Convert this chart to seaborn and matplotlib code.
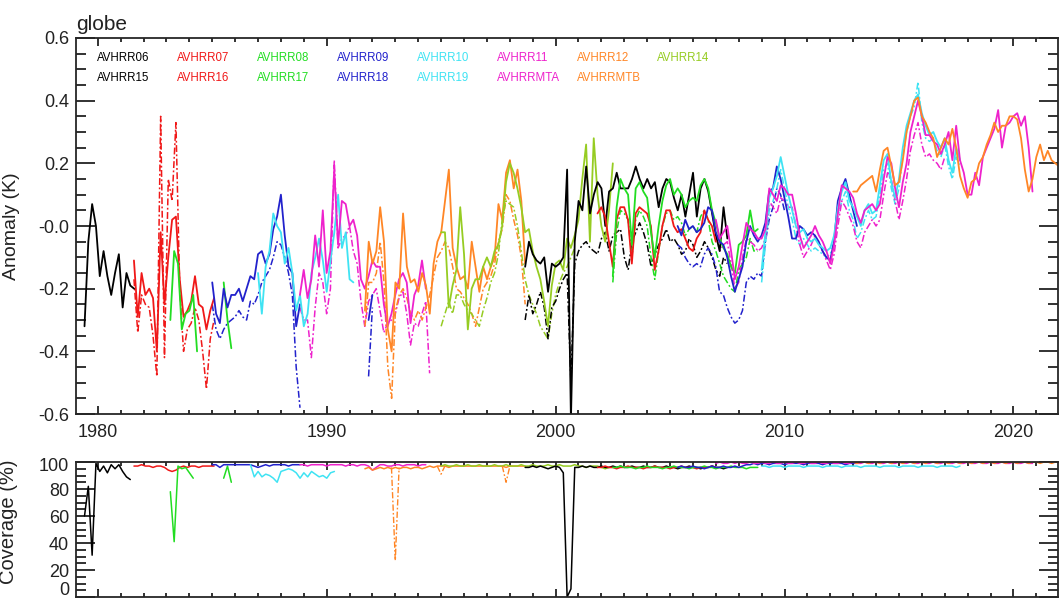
import numpy as np
import matplotlib
matplotlib.use("Agg")
import matplotlib.pyplot as plt
from matplotlib.ticker import MultipleLocator
from matplotlib.transforms import ScaledTranslation
import seaborn as sns

# ---- data: anomaly (K), bi-monthly values, first value at the given start year ----
avhrr06_start = 1979.42
avhrr06 = [-0.32, -0.05, 0.07, 0.00, -0.16, -0.08, -0.16, -0.22, -0.15, -0.09, -0.26, -0.15, -0.19, -0.20]
avhrr06_cov = [60, 82, 31, 99, 93, 97, 92, 98, 95, 98, 93, 89, 87]

avhrr07_start = 1981.58
avhrr07 = [-0.11, -0.29, -0.15, -0.22, -0.20, -0.23, -0.40, -0.02, -0.25, -0.10, 0.02, 0.03, -0.17, -0.29,
           -0.27, -0.24, -0.16, -0.25, -0.26, -0.33, -0.27, -0.23]
avhrr07_dd = [-0.17, -0.34, -0.22, -0.25, -0.26, -0.35, -0.48, 0.35, -0.42, 0.15, 0.08, 0.33, -0.20, -0.40,
              -0.33, -0.31, -0.26, -0.30, -0.40, -0.52, -0.36, -0.30]
avhrr07_cov = [97, 97, 98, 97, 97, 96, 97, 97, 96, 94, 93, 94, 96, 97, 96, 97, 97, 96, 97, 97, 97, 97]

avhrr08_start = 1983.17
avhrr08 = [-0.30, -0.08, -0.12, -0.33, -0.28, -0.27, -0.22, -0.40]
avhrr08_cov = [78, 41, 97, 95, 96, 92, 88]
avhrr08b_start = 1985.5
avhrr08b = [-0.18, -0.30, -0.39]
avhrr08b_cov = [88, 97, 85]

avhrr09_start = 1985.0
avhrr09 = [-0.18, -0.28, -0.31, -0.20, -0.26, -0.22, -0.22, -0.20, -0.24, -0.20, -0.16, -0.17, -0.09, -0.08,
           -0.12, -0.09, -0.01, 0.03, 0.10, -0.03, -0.13, -0.15, -0.32, -0.25]
avhrr09_dd = [-0.25, -0.33, -0.36, -0.33, -0.31, -0.30, -0.29, -0.27, -0.29, -0.30, -0.24, -0.25, -0.22, -0.18,
              -0.16, -0.14, -0.10, -0.05, -0.06, -0.10, -0.15, -0.22, -0.45, -0.58]
avhrr09_cov = [98, 98, 96, 98, 98, 98, 98, 98, 98, 98, 98, 97, 96, 97, 98, 97, 98, 98, 98, 98, 97, 98, 98, 98]
avhrr09b_start = 1991.83
avhrr09b = [-0.30, -0.22]
avhrr09b_dd = [-0.48, -0.26]

avhrr10_start = 1987.0
avhrr10 = [-0.15, -0.28, -0.13, -0.08, 0.04, 0.00, -0.02, -0.12, -0.07, -0.15, -0.27, -0.22, -0.32, -0.28,
           -0.15, -0.10, -0.04, -0.11, -0.21, -0.11, -0.02, 0.10, -0.07, -0.02, -0.17, -0.18]
avhrr10_cov_start = 1986.67
avhrr10_cov = [98, 89, 93, 89, 91, 90, 88, 85, 93, 94, 95, 94, 92, 88, 92, 89, 93, 91, 89, 90, 88, 92, 93]

avhrr11_start = 1988.83
avhrr11 = [-0.22, -0.14, -0.23, -0.17, -0.03, -0.13, 0.05, -0.15, -0.08, 0.18, -0.06, 0.08, 0.07, 0.00,
           0.02, -0.03, -0.17, -0.20, -0.16, -0.11, -0.13, -0.13, -0.25, -0.32, -0.28, -0.22, -0.17, -0.15,
           -0.18, -0.31, -0.22, -0.19, -0.11, -0.20]
avhrr11_dd = [-0.26, -0.30, -0.30, -0.42, -0.26, -0.15, -0.18, -0.28, -0.20, 0.21, -0.07, -0.04, -0.03, 0.00,
              -0.08, -0.12, -0.24, -0.32, -0.24, -0.22, -0.20, -0.27, -0.34, -0.31, -0.30, -0.28, -0.23, -0.21,
              -0.28, -0.38, -0.31, -0.32, -0.28, -0.24, -0.47]
avhrr11_cov = [98, 98, 97, 98, 98, 98, 98, 97, 98, 98, 98, 98, 97, 98, 98, 97, 98, 98, 97, 94, 96, 98,
               98, 97, 97, 98, 98, 97, 98, 98, 98, 97, 98, 98]

avhrr12_start = 1991.67
avhrr12 = [-0.27, -0.05, -0.12, -0.08, 0.06, -0.05, -0.33, -0.40, -0.18, -0.20, 0.04, -0.13, -0.18, -0.17,
           -0.21, -0.15, -0.19, -0.28, -0.12, -0.05, -0.02, 0.08, 0.18, -0.07, -0.13, -0.17, -0.16, -0.20,
           -0.05, -0.13, -0.21, -0.13, -0.17, -0.13, -0.10, 0.07, 0.02, 0.17, 0.21, 0.12, 0.18, 0.08, -0.12]
avhrr12_dd = [-0.32, -0.18, -0.18, -0.15, -0.05, -0.18, -0.45, -0.55, -0.27, -0.22, -0.20, -0.23, -0.28, -0.30,
              -0.27, -0.30, -0.26, -0.22, -0.16, -0.10, -0.08, -0.05, -0.07, -0.13, -0.20, -0.21, -0.23, -0.25,
              -0.28, -0.32, -0.26, -0.20, -0.18, -0.16, -0.12, -0.05, -0.01, 0.10, 0.08, 0.02, -0.03, -0.10, -0.25]
avhrr12_cov = [95, 96, 94, 95, 96, 95, 96, 95, 96, 95, 96, 96, 95, 96, 96, 95, 96, 97, 96, 97, 97, 97,
               96, 97, 97, 97, 97, 97, 97, 97, 97, 97, 97, 97, 97, 97, 97, 96, 97, 97, 97, 97, 97]
avhrr12_dd_cov_start = [1992.83, 1994.83, 1997.67]
avhrr12_dd_cov = [[96, 27, 96], [97, 91, 97], [97, 85, 97]]

avhrr14_start = 1995.0
avhrr14 = [-0.02, -0.02, -0.26, -0.19, -0.14, 0.06, -0.09, -0.33, -0.20, -0.17, -0.17, -0.13, -0.10, -0.13,
           -0.08, -0.06, 0.00, 0.14, 0.20, 0.17, 0.12, 0.06, -0.02, -0.01, -0.08, -0.13, -0.17, -0.24, -0.32,
           -0.19, -0.12, -0.11, -0.14, -0.04, -0.07, -0.03, 0.02, 0.15, 0.26, -0.05, 0.28, 0.10, 0.00, -0.05,
           0.05, 0.20]
avhrr14_dd = [-0.32, -0.28, -0.24, -0.28, -0.22, -0.22, -0.25, -0.27, -0.28, -0.30, -0.32, -0.27, -0.23, -0.18,
              -0.15, -0.09, 0.02, 0.08, 0.07, 0.06, 0.00, -0.08, -0.17, -0.22, -0.25, -0.28, -0.32, -0.34, -0.36,
              -0.28, -0.22, -0.18, -0.15, -0.13, -0.10, -0.07]
avhrr14_cov = [97, 98, 97, 97, 98, 97, 97, 98, 97, 97, 98, 97, 97, 97, 98, 97, 97, 98, 97, 97, 97, 98,
               97, 97, 98, 97, 97, 97, 98, 97, 97, 98, 97, 97, 97, 98, 97, 97, 96, 97, 97, 97, 96, 95, 96, 96]

avhrr15_start = 1998.67
avhrr15 = [-0.13, -0.05, -0.09, -0.11, -0.12, -0.10, -0.21, -0.12, -0.13, -0.12, -0.10, 0.18, -0.62, -0.05,
           0.08, 0.05, 0.19, 0.04, 0.10, 0.14, 0.12, 0.00, 0.11, 0.12, 0.17, 0.12, 0.12, 0.12, 0.15, 0.19,
           0.15, 0.12, 0.15, 0.12, 0.14, 0.06, 0.12, 0.15, 0.14, 0.09, 0.05, 0.10, 0.03, 0.10, 0.17, 0.03,
           0.12, 0.15, 0.11, 0.04, -0.03, -0.08, 0.06, -0.04]
avhrr15_dd = [-0.30, -0.22, -0.28, -0.25, -0.21, -0.26, -0.36, -0.26, -0.24, -0.20, -0.17, -0.15, -0.50, -0.12,
              -0.08, -0.06, -0.05, -0.07, -0.08, -0.09, -0.04, -0.02, -0.08, -0.03, -0.02, -0.01, -0.10, -0.14,
              -0.05, -0.02, 0.01, -0.02, -0.06, -0.13, -0.09, -0.06, -0.04, -0.01, -0.05, -0.04, -0.06, -0.09,
              -0.08, -0.04, -0.06, -0.10, -0.08, -0.05, -0.07, -0.10, -0.14, -0.16, -0.10, -0.12]
avhrr15_cov = [96, 96, 97, 96, 97, 96, 95, 96, 97, 96, 92, 0, 6, 96, 96, 97, 96, 97, 96, 96, 97, 96,
               96, 97, 96, 97, 96, 96, 97, 96, 96, 97, 96, 96, 97, 96, 96, 97, 96, 96, 95, 96, 96, 97,
               96, 96, 95, 96, 96, 97, 96, 96, 95, 96]

avhrr16_start = 2001.83
avhrr16 = [0.04, 0.06, 0.03, -0.05, -0.13, 0.02, 0.06, 0.06, 0.02, -0.12, 0.04, 0.06, 0.05, 0.04, 0.00, -0.14,
           -0.08, 0.00, 0.05, 0.05, 0.00, -0.02, -0.01, -0.04, -0.07, -0.08, -0.04, -0.02, 0.05, 0.02, 0.00, -0.05]
avhrr16_cov = [96, 96, 97, 96, 96, 95, 96, 96, 97, 96, 96, 96, 95, 96, 96, 97, 96, 96, 96, 95, 96, 96,
               97, 96, 96, 96, 95, 96, 96, 96, 97, 96]

avhrr17_start = 2002.5
avhrr17 = [-0.16, 0.06, 0.15, 0.12, 0.10, -0.06, 0.12, 0.14, 0.11, 0.09, -0.02, -0.10, 0.00, 0.08, 0.13,
           0.15, 0.10, 0.12, 0.10, 0.06, 0.08, 0.09, 0.08, 0.13, 0.15, 0.12, 0.05, 0.01, -0.04, -0.07, -0.09,
           -0.13, -0.15, -0.06, -0.05, -0.03, 0.05, -0.02, -0.01]
avhrr17_dd = [-0.18, -0.02, 0.05, 0.04, 0.02, -0.10, 0.02, 0.05, 0.03, 0.00, -0.10, -0.17, -0.08, 0.00, 0.04,
              0.05, 0.02, 0.03, 0.01, -0.03, -0.01, 0.00, -0.02, 0.03, 0.05, 0.02, -0.05, -0.08, -0.12, -0.16,
              -0.18, -0.20, -0.21, -0.14, -0.12, -0.10, -0.04, -0.08, -0.08]
avhrr17_cov = [96, 96, 97, 96, 96, 96, 95, 96, 96, 97, 96, 96, 96, 95, 96, 96, 97, 96, 96, 96, 95, 96,
               96, 96, 97, 96, 96, 95, 96, 96, 96, 97, 96, 96, 96, 95, 96, 96, 96]

avhrr18_start = 2005.33
avhrr18 = [0.00, -0.03, 0.02, -0.01, 0.00, -0.02, -0.01, 0.01, 0.06, 0.05, -0.02, -0.05, -0.06, -0.10, -0.16,
           -0.21, -0.17, -0.13, -0.05, 0.00, -0.03, -0.05, -0.03, 0.01, 0.11, 0.12, 0.19, 0.15, 0.09, 0.03,
           -0.04, -0.04, 0.00, -0.01, -0.03, -0.02, -0.03, -0.05, -0.08, -0.10, -0.11, -0.05, 0.08, 0.12, 0.15,
           0.10, 0.05, 0.00]
avhrr18_dd = [-0.06, -0.07, -0.10, -0.12, -0.13, -0.12, -0.13, -0.09, -0.07, -0.09, -0.13, -0.21, -0.22, -0.26,
              -0.29, -0.31, -0.30, -0.27, -0.18, -0.16, -0.17, -0.15, -0.16, -0.05, 0.02, 0.06, 0.12, 0.10, 0.05]
avhrr18_cov = [96, 97, 96, 96, 97, 96, 96, 95, 96, 97, 96, 96, 97, 96, 96, 97, 96, 97, 98, 98, 99, 98,
               99, 99, 98, 99, 99, 99, 98, 99, 99, 99, 99, 98, 99, 99, 99, 99, 98, 99, 99, 99, 99, 99,
               98, 99, 99, 99]

avhrr19_start = 2009.0
avhrr19 = [-0.14, -0.02, 0.09, 0.12, 0.16, 0.22, 0.16, 0.10, 0.05, 0.00, -0.02, -0.01, -0.04, -0.05, -0.04,
           -0.06, -0.07, -0.08, -0.07, -0.03, 0.06, 0.11, 0.14, 0.08, 0.06, 0.03, 0.00, 0.05, 0.07, 0.04,
           0.05, 0.13, 0.21, 0.23, 0.14, 0.09, 0.15, 0.25, 0.32, 0.36, 0.40, 0.42, 0.36, 0.32, 0.29, 0.30,
           0.27, 0.25, 0.28, 0.21, 0.17, 0.25, 0.21]
avhrr19_dd = [-0.18, -0.06, 0.05, 0.08, 0.12, 0.18, 0.12, 0.06, 0.02, -0.04, -0.06, -0.04, -0.06, -0.08, -0.07,
              -0.08, -0.09, -0.10, -0.09, -0.05, 0.03, 0.08, 0.11, 0.05, 0.02, -0.04, -0.02, 0.02, 0.05, 0.02,
              0.03, 0.10, 0.18, 0.20, 0.12, 0.07, 0.12, 0.22, 0.30, 0.35, 0.38, 0.46, 0.33, 0.28, 0.27, 0.28,
              0.24, 0.22, 0.26, 0.19, 0.15, 0.22, 0.19]
avhrr19_cov = [97, 97, 96, 97, 97, 97, 96, 97, 97, 97, 97, 96, 97, 97, 97, 97, 96, 97, 97, 97, 97, 96,
               97, 97, 97, 97, 96, 97, 97, 97, 97, 96, 97, 97, 97, 97, 96, 97, 97, 97, 97, 96, 97, 97,
               97, 97, 96, 97, 97, 97, 97, 96, 97]

avhrrmta_start = 2007.0
avhrrmta = [0.02, -0.04, -0.02, 0.00, -0.08, -0.17, -0.13, -0.06, 0.01, -0.01, -0.02, -0.04, -0.04, -0.01,
            0.12, 0.10, 0.08, 0.13, 0.12, 0.10, 0.10, 0.04, -0.03, -0.07, -0.05, -0.03, 0.00, -0.03, -0.05,
            -0.08, -0.12, -0.06, 0.04, 0.13, 0.12, 0.11, 0.09, 0.04, 0.01, 0.05, 0.06, 0.07, 0.05, 0.07, 0.15,
            0.22, 0.20, 0.12, 0.06, 0.14, 0.20, 0.30, 0.35, 0.40, 0.35, 0.29, 0.29, 0.27, 0.26, 0.23, 0.26,
            0.30, 0.21, 0.32, 0.21, 0.17, 0.10, 0.10, 0.17, 0.13, 0.22, 0.25, 0.28, 0.31, 0.37, 0.25, 0.32,
            0.33, 0.35, 0.36, 0.32, 0.35, 0.25, 0.11]
avhrrmta_dd = [-0.02, -0.08, -0.06, -0.05, -0.12, -0.20, -0.18, -0.10, -0.04, -0.05, -0.06, -0.08, -0.07, -0.04,
               0.08, 0.06, 0.04, 0.09, 0.08, 0.06, 0.06, 0.00, -0.06, -0.10, -0.08, -0.06, -0.03, -0.06, -0.08,
               -0.11, -0.14, -0.09, 0.00, 0.08, 0.06, 0.03, 0.00, -0.05, -0.07, -0.02, 0.00, 0.02, 0.00, 0.02,
               0.10, 0.17, 0.15, 0.08, 0.02, 0.08, 0.15, 0.24, 0.29, 0.33, 0.26, 0.22, 0.23, 0.21, 0.20, 0.18, 0.22]
avhrrmta_cov = [99, 100, 99, 99, 100, 99, 100, 99, 99, 100, 99, 99, 100, 99, 99, 100, 99, 99, 100, 99, 99,
                100, 99, 99, 100, 99, 99, 100, 99, 99, 100, 99, 99, 100, 99, 99, 100, 99, 99, 100, 99, 99,
                100, 99, 99, 100, 99, 99, 100, 99, 99, 100, 99, 99, 100, 99, 99, 100, 99, 99, 100, 99, 99,
                100, 99, 99, 100, 99, 99, 100, 99, 99, 100, 99, 99, 100, 99, 99, 100, 99, 99, 100, 99, 99]

avhrrmtb_start = 2013.0
avhrrmtb = [0.11, 0.11, 0.13, 0.14, 0.15, 0.16, 0.11, 0.18, 0.24, 0.25, 0.19, 0.13, 0.14, 0.21, 0.30, 0.35,
            0.40, 0.41, 0.35, 0.33, 0.30, 0.28, 0.22, 0.25, 0.28, 0.26, 0.31, 0.25, 0.16, 0.12, 0.09, 0.14,
            0.15, 0.20, 0.22, 0.26, 0.29, 0.33, 0.30, 0.32, 0.32, 0.35, 0.35, 0.34, 0.28, 0.18, 0.11, 0.15,
            0.22, 0.26, 0.21, 0.24, 0.21, 0.20, 0.19]
avhrrmtb_cov = [100, 99, 100, 100, 99, 100, 100, 99, 100, 100, 99, 100, 100, 99, 100, 100, 99, 100, 100,
                99, 100, 100, 99, 100, 100, 99, 100, 100, 99, 100, 100, 99, 100, 100, 99, 100, 100, 99,
                100, 100, 99, 100, 100, 99, 100, 100, 99, 100, 100, 99, 100, 100, 99, 100, 100]

names_row1 = ["AVHRR06", "AVHRR07", "AVHRR08", "AVHRR09", "AVHRR10", "AVHRR11", "AVHRR12", "AVHRR14"]
names_row2 = ["AVHRR15", "AVHRR16", "AVHRR17", "AVHRR18", "AVHRR19", "AVHRRMTA", "AVHRRMTB"]
colors = ["#000000", "#f01818", "#22dd22", "#2222cc", "#3fe3f3", "#ee22cc", "#ff8626", "#96cc22"]
year_ticks = [1980, 1990, 2000, 2010, 2020]
anom_ticks = [-0.6, -0.4, -0.2, 0.0, 0.2, 0.4, 0.6]
anom_labels = ["-0.6", "-0.4", "-0.2", "-0.0", "0.2", "0.4", "0.6"]
cov_ticks = [0, 20, 40, 60, 80, 100]

DASHDOT = (0, (4.5, 1.6, 1.2, 1.6))


def months(start, n):
    # bi-monthly time axis
    return start + np.arange(n) / 6.0


sns.set_style("ticks")
plt.rcParams["font.family"] = ["Liberation Sans", "DejaVu Sans"]

fig = plt.figure(figsize=(10.59, 5.99), dpi=100)
ax = fig.add_axes([0.0718, 0.3088, 0.9273, 0.6278])
ax2 = fig.add_axes([0.0718, 0.0033, 0.9273, 0.2254])

# (start, values, colour index) per line
solid = [
    (avhrr06_start, avhrr06, 0), (avhrr07_start, avhrr07, 1), (avhrr08_start, avhrr08, 2),
    (avhrr08b_start, avhrr08b, 2), (avhrr09_start, avhrr09, 3), (avhrr09b_start, avhrr09b, 3),
    (avhrr10_start, avhrr10, 4), (avhrr11_start, avhrr11, 5), (avhrr12_start, avhrr12, 6),
    (avhrr14_start, avhrr14, 7), (avhrr15_start, avhrr15, 0), (avhrr16_start, avhrr16, 1),
    (avhrr17_start, avhrr17, 2), (avhrr18_start, avhrr18, 3), (avhrr19_start, avhrr19, 4),
    (avhrrmta_start, avhrrmta, 5), (avhrrmtb_start, avhrrmtb, 6),
]
dashed = [
    (avhrr07_start, avhrr07_dd, 1), (avhrr09_start, avhrr09_dd, 3), (avhrr09b_start, avhrr09b_dd, 3),
    (avhrr11_start, avhrr11_dd, 5), (avhrr12_start, avhrr12_dd, 6), (avhrr14_start, avhrr14_dd, 7),
    (avhrr15_start, avhrr15_dd, 0), (avhrr17_start, avhrr17_dd, 2), (avhrr18_start, avhrr18_dd, 3),
    (avhrr19_start, avhrr19_dd, 4), (avhrrmta_start, avhrrmta_dd, 5),
]
coverage = [
    (avhrr06_start, avhrr06_cov, 0), (avhrr07_start, avhrr07_cov, 1), (avhrr08_start, avhrr08_cov, 2),
    (avhrr08b_start, avhrr08b_cov, 2), (avhrr09_start, avhrr09_cov, 3), (avhrr10_cov_start, avhrr10_cov, 4),
    (avhrr11_start, avhrr11_cov, 5), (avhrr12_start, avhrr12_cov, 6), (avhrr14_start, avhrr14_cov, 7),
    (avhrr15_start, avhrr15_cov, 0), (avhrr16_start, avhrr16_cov, 1), (avhrr17_start, avhrr17_cov, 2),
    (avhrr18_start, avhrr18_cov, 3), (avhrr19_start, avhrr19_cov, 4), (avhrrmta_start, avhrrmta_cov, 5),
    (avhrrmtb_start, avhrrmtb_cov, 6),
]

for start, vals, ci in dashed:
    sns.lineplot(x=months(start, len(vals)), y=vals, ax=ax, color=colors[ci], linewidth=1.1,
                 linestyle=DASHDOT, legend=False)
for start, vals, ci in solid:
    sns.lineplot(x=months(start, len(vals)), y=vals, ax=ax, color=colors[ci], linewidth=1.3, legend=False)

for start, vals, ci in coverage:
    sns.lineplot(x=months(start, len(vals)), y=vals, ax=ax2, color=colors[ci], linewidth=1.1, legend=False)
for start, vals in zip(avhrr12_dd_cov_start, avhrr12_dd_cov):
    sns.lineplot(x=months(start, len(vals)), y=vals, ax=ax2, color=colors[6], linewidth=1.0,
                 linestyle=DASHDOT, legend=False)

# legend as coloured text, two rows
for i, name in enumerate(names_row1):
    ax.text(0.0214 + i * 0.0815, 0.947, name, transform=ax.transAxes, color=colors[i],
            fontsize=8.3, va="center", ha="left")
for i, name in enumerate(names_row2):
    ax.text(0.0214 + i * 0.0815, 0.894, name, transform=ax.transAxes, color=colors[i],
            fontsize=8.3, va="center", ha="left")

for a in (ax, ax2):
    a.set_xlim(1979.05, 2021.95)
    a.set_xticks(year_ticks)
    a.xaxis.set_minor_locator(MultipleLocator(1))
    for s in a.spines.values():
        s.set_linewidth(1.3)
    a.tick_params(which="both", direction="in", top=True, right=True, width=1.3, colors="#222222",
                  labelcolor="#222222")
    a.tick_params(axis="x", which="major", length=5.5, labelsize=13, pad=7)
    a.tick_params(axis="x", which="minor", length=3.2)
    a.tick_params(axis="y", which="major", length=13.5, labelsize=13, pad=5)
    a.tick_params(axis="y", which="minor", length=7)
    a.set_xlabel("")

ax.set_ylim(-0.6, 0.6)
ax.set_yticks(anom_ticks)
ax.set_yticklabels(anom_labels)
ax.yaxis.set_minor_locator(MultipleLocator(0.05))
ax.set_xticklabels([str(y) for y in year_ticks])
ax.set_ylabel("Anomaly (K)", fontsize=14, color="#222222")
ax.yaxis.set_label_coords(-0.057, 0.5)
ax.set_title("globe", loc="left", fontsize=15, pad=6, color="#222222")

ax2.set_ylim(0, 100)
ax2.set_yticks(cov_ticks)
ax2.set_yticklabels([str(c) for c in cov_ticks])
ax2.yaxis.set_minor_locator(MultipleLocator(5))
ax2.tick_params(axis="y", which="major", length=14)
ax2.tick_params(axis="x", labelbottom=False)
ax2.set_ylabel("Coverage (%)", fontsize=14.5, color="#222222")
ax2.yaxis.set_label_coords(-0.0596, 0.555)

# keep the bottom "0" inside the picture, nudge "100" down a little
lbls = ax2.get_yticklabels()
lbls[0].set_transform(lbls[0].get_transform() + ScaledTranslation(0, 6 / 72, fig.dpi_scale_trans))
lbls[-1].set_transform(lbls[-1].get_transform() + ScaledTranslation(0, -2 / 72, fig.dpi_scale_trans))

fig.savefig("out.png", dpi=100)
